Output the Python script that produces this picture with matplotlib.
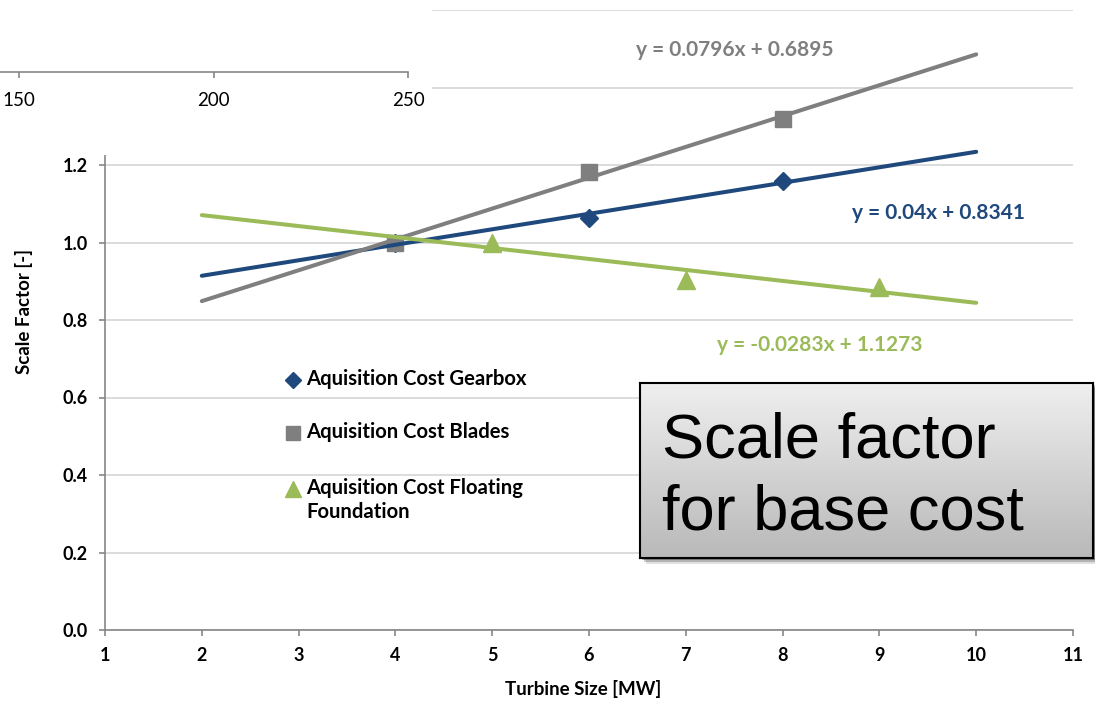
import numpy as np
import matplotlib
matplotlib.use("Agg")
import matplotlib.pyplot as plt
from matplotlib.patches import Rectangle
from matplotlib.lines import Line2D
from matplotlib.colors import LinearSegmentedColormap

# measured points: turbine size [MW] -> scale factor [-]
gear_x = [4, 6, 8]
gear_y = [0.999, 1.064, 1.159]
blade_x = [4, 6, 8]
blade_y = [1.0, 1.183, 1.318]
float_x = [5, 7, 9]
float_y = [0.999, 0.904, 0.886]

# linear trendlines (slope, intercept) as printed on the chart
gear_fit = (0.04, 0.8341)
blade_fit = (0.0796, 0.6895)
float_fit = (-0.0283, 1.1273)
trend_x = np.array([2, 10])

names = ["Aquisition Cost Gearbox", "Aquisition Cost Blades",
         "Aquisition Cost Floating\nFoundation"]
eq_labels = ["y = 0.04x + 0.8341", "y = 0.0796x + 0.6895", "y = -0.0283x + 1.1273"]

x_ticks = list(range(1, 12))
y_ticks = [0.0, 0.2, 0.4, 0.6, 0.8, 1.0, 1.2, 1.4, 1.6]
frag_ticks = [150, 200, 250]   # axis of the cut-off chart in the corner

BLUE, GREY, GREEN = "#1F497D", "#7F7F7F", "#9BBB59"
AXC = "#868686"
FONT = "Lato"

W, H = 1095, 706
def fx(px): return px / W
def fy(py): return 1 - py / H

fig = plt.figure(figsize=(W / 100, H / 100), dpi=100)
ax = fig.add_axes([fx(105), fy(630), fx(1073) - fx(105), fy(10) - fy(630)])

ax.set_xlim(1, 11)
ax.set_ylim(0, 1.6)
ax.set_xticks(x_ticks)
ax.set_yticks(y_ticks)
ax.set_yticklabels([f"{v:.1f}" for v in y_ticks])
ax.yaxis.grid(True, color="#d9d9d9", lw=1.3)
ax.set_axisbelow(True)
for s in ["top", "right"]:
    ax.spines[s].set_visible(False)
for s in ["left", "bottom"]:
    ax.spines[s].set_color(AXC)
    ax.spines[s].set_linewidth(1.2)
ax.tick_params(direction="out", length=4.5, width=1.2, color=AXC, pad=8)
for lab in ax.get_xticklabels() + ax.get_yticklabels():
    lab.set_fontfamily(FONT)
    lab.set_fontweight("bold")
    lab.set_fontsize(13)

# markers
ax.plot(gear_x, gear_y, "D", color=BLUE, ms=9.5, zorder=2)
ax.plot(blade_x, blade_y, "s", color=GREY, ms=12, zorder=2)
ax.plot(float_x, float_y, "^", color=GREEN, ms=13, zorder=2)

# trendlines
for (m, b), c in zip([gear_fit, blade_fit, float_fit], [BLUE, GREY, GREEN]):
    ax.plot(trend_x, m * trend_x + b, color=c, lw=2.9, solid_capstyle="round", zorder=3)

# equation labels
eq_pos = [(938, 213), (735, 50), (820, 345)]
for t, (px, py), c in zip(eq_labels, eq_pos, [BLUE, GREY, GREEN]):
    fig.text(fx(px), fy(py), t, color=c, fontsize=15, fontweight="bold",
             family=FONT, ha="center", va="center")

ax.set_xlabel("Turbine Size [MW]", fontsize=13.5, fontweight="bold", family=FONT)
ax.xaxis.set_label_coords((583 - 105) / (1073 - 105), -(680 - 630) / 620)
ax.set_ylabel("Scale Factor [-]", fontsize=13.5, fontweight="bold", family=FONT)
ax.yaxis.set_label_coords(-(105 - 33) / 968, (630 - 311) / 620)

# legend drawn by hand
leg_rows = [(380, "D", BLUE, 8), (433, "s", GREY, 10), (489, "^", GREEN, 11)]
for (py, mk, c, ms), name in zip(leg_rows, names):
    fig.add_artist(Line2D([fx(293)], [fy(py)], marker=mk, color=c, ms=ms,
                          linestyle="none", transform=fig.transFigure))
    fig.text(fx(306), fy(py - 11), name, fontsize=14.6, fontweight="bold",
             family=FONT, ha="left", va="top", linespacing=1.25)

# white patch with the fragment of another chart in the top-left corner
fig.add_artist(Rectangle((0, fy(155)), fx(432), 1 - fy(155), transform=fig.transFigure,
                         facecolor="white", edgecolor="none", zorder=1))
fa = fig.add_axes([0, fy(72), fx(408.3), 0.01], zorder=2)
fa.patch.set_visible(False)
fa.set_xlim(145.1, 250)
fa.set_ylim(0, 1)
fa.set_xticks(frag_ticks)
fa.set_yticks([])
for s in ["top", "right", "left"]:
    fa.spines[s].set_visible(False)
fa.spines["bottom"].set_color(AXC)
fa.spines["bottom"].set_linewidth(1.2)
fa.tick_params(direction="out", length=4.5, width=1.2, color=AXC, pad=10)
for lab in fa.get_xticklabels():
    lab.set_fontfamily(FONT)
    lab.set_fontsize(13.5)

# callout box with gradient and shadow
bx0, by0, bx1, by1 = 640, 383, 1093, 558
for k, a in [(6, 0.12), (4, 0.2), (2, 0.3)]:
    fig.add_artist(Rectangle((fx(bx0 + k), fy(by1 + k)), fx(bx1) - fx(bx0), fy(by0) - fy(by1),
                             transform=fig.transFigure, facecolor="black", alpha=a,
                             edgecolor="none", zorder=3))
bax = fig.add_axes([fx(bx0), fy(by1), fx(bx1) - fx(bx0), fy(by0) - fy(by1)], zorder=4)
cmap = LinearSegmentedColormap.from_list("g", ["#efefef", "#b9b9b9"])
bax.imshow(np.linspace(0, 1, 100).reshape(-1, 1), aspect="auto", cmap=cmap,
           extent=(0, 1, 0, 1), origin="upper")
bax.set_xticks([])
bax.set_yticks([])
for s in bax.spines.values():
    s.set_color("black")
    s.set_linewidth(1.5)
bax.text((662 - bx0) / (bx1 - bx0), (by1 - 457) / (by1 - by0), "Scale factor",
         transform=bax.transAxes, fontsize=45.5, family="Liberation Sans", va="baseline")
bax.text((662 - bx0) / (bx1 - bx0), (by1 - 530) / (by1 - by0), "for base cost",
         transform=bax.transAxes, fontsize=45.5, family="Liberation Sans", va="baseline")

fig.savefig("out.png", dpi=100)
